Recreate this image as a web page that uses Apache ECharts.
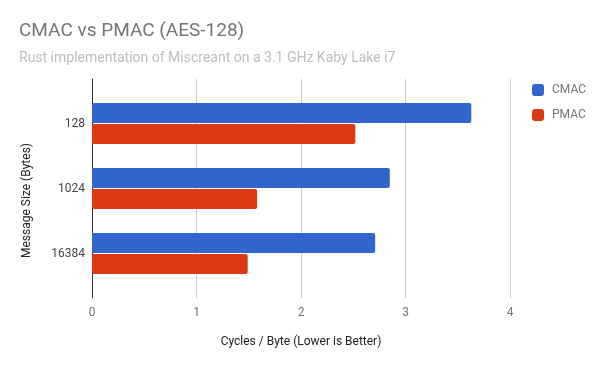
<!DOCTYPE html>
<html>
<head>
<meta charset="utf-8">
<script src="https://cdn.jsdelivr.net/npm/echarts@6/dist/echarts.min.js"></script>
<style>html,body{margin:0;padding:0;background:#fff}#c{width:600px;height:371px}</style>
</head>
<body>
<div id="c"></div>
<script>
const categories = ['128', '1024', '16384'];
const cmac = [3.63, 2.85, 2.71];
const pmac = [2.52, 1.58, 1.49];
const xTicks = [0, 1, 2, 3, 4];

const chart = echarts.init(document.getElementById('c'), null, {renderer: 'canvas'});
const FONT = 'Roboto';
chart.setOption({
  animation: false,
  textStyle: {fontFamily: FONT},
  title: [{
    text: 'CMAC vs PMAC (AES-128)',
    left: 14, top: 17,
    textStyle: {fontFamily: FONT, fontSize: 19, fontWeight: 'normal', color: '#757575'}
  }, {
    text: 'Rust implementation of Miscreant on a 3.1 GHz Kaby Lake i7',
    left: 14, top: 46,
    textStyle: {fontFamily: FONT, fontSize: 14, fontWeight: 'normal', color: '#bdbdbd'}
  }],
  legend: {
    orient: 'vertical',
    left: 527, top: 79,
    itemWidth: 12, itemHeight: 12, itemGap: 13,
    icon: 'roundRect',
    textStyle: {fontFamily: FONT, fontSize: 12, color: '#757575', padding: [0, 0, 0, 3]},
    data: ['CMAC', 'PMAC']
  },
  graphic: [{
    type: 'text',
    left: 21, top: 143,
    rotation: Math.PI / 2,
    style: {text: 'Message Size (Bytes)', font: '12px Roboto', fill: '#222'}
  }],
  grid: [
    {left: 92, right: 90, top: 79, bottom: 73},
    {left: 92, right: 90, top: 91, bottom: 85}
  ],
  xAxis: [{
    gridIndex: 0, type: 'value', min: 0, max: 4, interval: 1,
    name: 'Cycles / Byte (Lower is Better)', nameLocation: 'middle', nameGap: 38,
    nameTextStyle: {fontFamily: FONT, fontSize: 12, color: '#222'},
    axisLine: {show: false}, axisTick: {show: false},
    axisLabel: {fontFamily: FONT, fontSize: 12, color: '#757575', margin: 9,
      formatter: v => xTicks.includes(v) ? String(v) : ''},
    splitLine: {show: true, lineStyle: {color: '#cccccc', width: 1}}
  }, {
    gridIndex: 1, type: 'value', min: 0, max: 4, interval: 1, show: false
  }],
  yAxis: [{
    gridIndex: 0, type: 'value', min: 0, max: 1,
    axisLine: {show: true, lineStyle: {color: '#333333', width: 1}},
    axisTick: {show: false}, axisLabel: {show: false}, splitLine: {show: false}
  }, {
    gridIndex: 1, type: 'category', data: categories, inverse: true,
    axisLine: {show: false}, axisTick: {show: false}, splitLine: {show: false},
    axisLabel: {fontFamily: FONT, fontSize: 12, color: '#444', margin: 7}
  }],
  series: [{
    name: 'CMAC', type: 'bar', xAxisIndex: 1, yAxisIndex: 1,
    data: cmac, barWidth: 20, barGap: '5%',
    itemStyle: {color: '#3366cc', borderRadius: 2}
  }, {
    name: 'PMAC', type: 'bar', xAxisIndex: 1, yAxisIndex: 1,
    data: pmac, barWidth: 20, barGap: '5%',
    itemStyle: {color: '#dc3912', borderRadius: 2}
  }]
});
</script>
</body>
</html>
